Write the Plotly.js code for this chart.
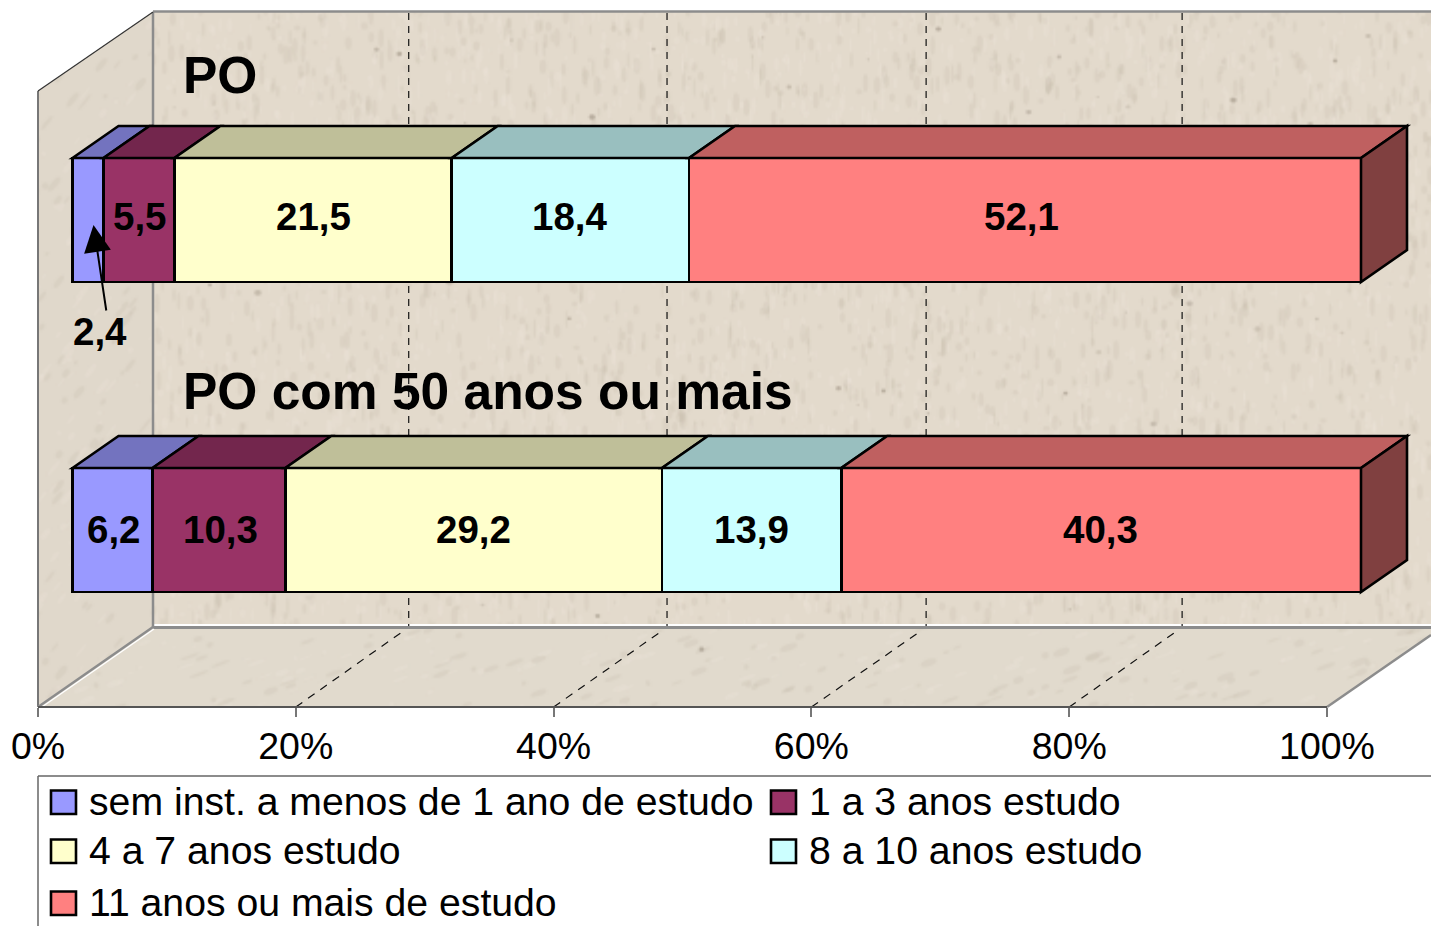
<!DOCTYPE html>
<html>
<head>
<meta charset="utf-8">
<script src="https://cdn.plot.ly/plotly-3.0.1.min.js"></script>
<style>html,body{margin:0;padding:0;background:#fff;overflow:hidden}#chart{width:1431px;height:926px}</style>
</head>
<body>
<div id="chart"></div>
<script>
// ---- data ----
const categories = ['PO', 'PO com 50 anos ou mais'];
const semInst   = [2.4, 6.2];
const anos1a3   = [5.5, 10.3];
const anos4a7   = [21.5, 29.2];
const anos8a10  = [18.4, 13.9];
const anos11    = [52.1, 40.3];
const seriesNames = ['sem inst. a menos de 1 ano de estudo', '1 a 3 anos estudo', '4 a 7 anos estudo', '8 a 10 anos estudo', '11 anos ou mais de estudo'];
const seriesColors = ['#9999FF', '#993366', '#FFFFCC', '#CCFFFF', '#FF8080'];
const tickValues = [0, 20, 40, 60, 80, 100];
const gridValues = [20, 40, 60, 80];

const allSeries = [semInst, anos1a3, anos4a7, anos8a10, anos11];
const FONT = '"Liberation Sans", Arial, sans-serif';
const W = 1431, H = 926;
const px = v => v / W, py = v => 1 - v / H;

// bar scale: 0% at 72.5px, 100% at 1361px; category centres at 220px and 530px
const xPerPct = 12.885, yPerCat = 310;
const xRange = [-72.5 / xPerPct, (W - 72.5) / xPerPct];
const yRange = [(H - 220) / yPerCat, -220 / yPerCat];
const halfBar = 0.2, depthX = 46 / xPerPct, depthY = 32 / yPerCat;

function shade(hex, f) {
  const n = parseInt(hex.slice(1), 16);
  const c = [n >> 16 & 255, n >> 8 & 255, n & 255].map(v => Math.round(v * f));
  return 'rgb(' + c.join(',') + ')';
}
const fmt = v => v.toFixed(1).replace('.', ',');

// ---- bars ----
const traces = allSeries.map((vals, s) => ({
  type: 'bar', orientation: 'h', name: seriesNames[s], y: categories, x: vals,
  marker: {color: seriesColors[s], line: {color: '#000', width: 2.6}},
  hoverinfo: 'name+x', showlegend: false, xaxis: 'x', yaxis: 'y'
}));
// percent axis along the front edge of the floor
traces.push({type: 'scatter', mode: 'none', x: tickValues, y: tickValues.map(() => 0), xaxis: 'x2', yaxis: 'y2', showlegend: false, hoverinfo: 'skip'});

// ---- 3D faces of the bars and value labels, from the same values ----
const shapes = [];
const annotations = [];
const LINE = {color: '#000', width: 2.6};
const labelLift = [4, 1];
const labelNudge = [[0, 1, 0, 0, -4], [2, 2, 0, 0, -1]];
categories.forEach((cat, i) => {
  const total = allSeries.reduce((a, s) => a + s[i], 0);
  let start = 0;
  const t = i - halfBar, b = i + halfBar;
  allSeries.forEach((s, k) => {
    const end = start + s[i] / total * 100;
    shapes.push({type: 'path', xref: 'x', yref: 'y', layer: 'above', line: LINE, fillcolor: shade(seriesColors[k], 0.75),
      path: `M${start},${t}L${start + depthX},${t - depthY}L${end + depthX},${t - depthY}L${end},${t}Z`});
    if (k === allSeries.length - 1) {
      shapes.push({type: 'path', xref: 'x', yref: 'y', layer: 'above', line: LINE, fillcolor: shade(seriesColors[k], 0.5),
        path: `M${end},${t}L${end + depthX},${t - depthY}L${end + depthX},${b - depthY}L${end},${b}Z`});
    }
    if (!(i === 0 && k === 0)) {
      annotations.push({xref: 'x', yref: 'y', x: (start + end) / 2, y: i, xshift: labelNudge[i][k], yshift: labelLift[i], showarrow: false, text: '<b>' + fmt(s[i]) + '</b>', font: {family: FONT, size: 38.5, color: '#000'}});
    }
    start = end;
  });
});

// ---- walls ----
function seg(x0, y0, x1, y1, color, width, dash) {
  return {type: 'line', xref: 'paper', yref: 'paper', layer: 'below', x0: px(x0), y0: py(y0), x1: px(x1), y1: py(y1), line: {color, width, dash: dash || 'solid'}};
}
shapes.push(
  seg(153, 625, W, 625, '#ffffff', 2),
  seg(153, 627.5, W, 627.5, '#8c8c8c', 3),
  seg(153, 11.5, W, 11.5, '#8c8c8c', 2.5),
  seg(153, 12, 153, 627, '#8c8c8c', 2.5),
  seg(38, 91, 38, 707, '#777777', 2),
  seg(38, 91, 153, 12, '#333333', 1.2),
  seg(39, 709, 154, 629, '#ffffff', 1.5),
  seg(38, 707, 153, 627, '#8c8c8c', 2.5),
  seg(1327, 707, W, 635, '#8c8c8c', 2.5)
);
// dashed gridlines on back wall and floor
const backOffsets = [8.76, 8.8, 8.9, 8.76];
gridValues.forEach((v, i) => {
  const o = backOffsets[i];
  shapes.push({type: 'line', xref: 'x2', yref: 'paper', layer: 'below', x0: v + o, x1: v + o, y0: py(13), y1: py(626), line: {color: '#111', width: 1.2, dash: '7px,6px'}});
  shapes.push({type: 'line', xref: 'x2', yref: 'paper', layer: 'below', x0: v, x1: v + o - 0.3, y0: py(707), y1: py(630), line: {color: '#111', width: 1.2, dash: '8px,7px'}});
});

// ---- legend box ----
shapes.push(seg(38, 776, W, 776, '#666666', 1.5), seg(38, 776, 38, H, '#666666', 1.5));
const legendCols = [51, 771], legendRows = [802.5, 851.5, 903.5];
seriesNames.forEach((name, i) => {
  const x = legendCols[i % 2], y = legendRows[Math.floor(i / 2)];
  shapes.push({type: 'rect', xref: 'paper', yref: 'paper', layer: 'above', x0: px(x), x1: px(x + 25), y0: py(y - 12), y1: py(y + 11.5), fillcolor: seriesColors[i], line: LINE});
  annotations.push({xref: 'paper', yref: 'paper', x: px(x + 36), y: py(y - 0.7), xanchor: 'left', yanchor: 'middle', showarrow: false, text: name, font: {family: FONT, size: 39.2, color: '#000'}});
});

// ---- group titles ----
[74.5, 390.5].forEach((y, i) => annotations.push({xref: 'paper', yref: 'paper', x: px(180.5), y: py(y), xanchor: 'left', yanchor: 'middle', showarrow: false, text: '<b>' + categories[i] + '</b>', font: {family: FONT, size: 51.5, color: '#000'}}));

// ---- 2,4 callout ----
annotations.push({xref: 'paper', yref: 'paper', x: px(99.5), y: py(331), xanchor: 'center', yanchor: 'middle', showarrow: false, text: '<b>' + fmt(semInst[0]) + '</b>', font: {family: FONT, size: 38.5, color: '#000'}});
annotations.push({xref: 'paper', yref: 'paper', x: px(93.5), y: py(225), text: '', showarrow: true, arrowhead: 2, arrowsize: 2.7, arrowwidth: 2, arrowcolor: '#000', axref: 'pixel', ayref: 'pixel', ax: 13, ay: 87});

// ---- paper texture of the walls, deterministic; drawn small and enlarged so it comes out soft ----
function wallTexture() {
  const c = document.createElement('canvas'); c.width = W; c.height = H;
  const g = c.getContext('2d');
  const SW = Math.round(W / 2), SH = Math.round(H / 2);
  let seed = 12345;
  const rnd = () => { seed = (seed * 1664525 + 1013904223) % 4294967296; return seed / 4294967296; };
  const regions = [
    {poly: [[153,12],[W,12],[W,627],[153,627]], base: '#E3DACC', angle: Math.PI / 2, n: 9000},
    {poly: [[38,91],[153,12],[153,627],[38,707]], base: '#E0D8CB', angle: -0.9, n: 3000},
    {poly: [[38,707],[153,627],[W,627],[W,635],[1327,707]], base: '#E1DACD', angle: -0.35, n: 3000}
  ];
  regions.forEach(r => {
    const s = document.createElement('canvas'); s.width = SW; s.height = SH;
    const q = s.getContext('2d');
    q.fillStyle = r.base; q.fillRect(0, 0, SW, SH);
    for (let i = 0; i < r.n; i++) {
      const x = rnd() * SW, y = rnd() * SH, big = rnd(), light = rnd() > 0.5;
      q.fillStyle = light ? 'rgba(240,234,224,0.22)' : 'rgba(190,176,158,0.18)';
      q.beginPath(); q.ellipse(x, y, 1 + big * 4, 0.5 + rnd() * 1.2, r.angle, 0, 7); q.fill();
    }
    for (let i = 0; i < r.n / 70; i++) {
      const x = rnd() * SW, y = rnd() * SH, d = 0.5 + rnd() * 1.2;
      q.fillStyle = 'rgba(140,128,112,' + (0.2 + rnd() * 0.35) + ')';
      q.beginPath(); q.ellipse(x, y, d, d * 0.8, 0, 0, 7); q.fill();
    }
    g.save(); g.beginPath();
    r.poly.forEach((p, i) => i ? g.lineTo(p[0], p[1]) : g.moveTo(p[0], p[1]));
    g.closePath(); g.clip();
    g.imageSmoothingEnabled = true;
    g.drawImage(s, 0, 0, W, H);
    g.restore();
  });
  return c.toDataURL('image/png');
}

const layout = {
  width: W, height: H, margin: {l: 0, r: 0, t: 0, b: 0}, autosize: false,
  paper_bgcolor: '#fff', plot_bgcolor: 'rgba(0,0,0,0)', showlegend: false,
  barmode: 'stack', barnorm: 'percent', bargap: 0.6,
  font: {family: FONT, color: '#000'},
  xaxis: {range: xRange, visible: false, fixedrange: true, domain: [0, 1], anchor: 'y'},
  yaxis: {type: 'category', categoryorder: 'array', categoryarray: categories, range: yRange, visible: false, fixedrange: true, domain: [0, 1], anchor: 'x'},
  xaxis2: {domain: [px(38), px(1327)], range: [0, 100], anchor: 'y2', side: 'bottom', tickmode: 'array', tickvals: tickValues, ticktext: tickValues.map(v => v + '%'),
    ticks: 'outside', ticklen: 9, tickwidth: 1.5, tickcolor: '#777', showline: true, linecolor: '#555', linewidth: 2, showgrid: false, zeroline: false, ticklabelstandoff: -3,
    tickfont: {family: FONT, size: 37.5, color: '#000'}, fixedrange: true, automargin: false},
  yaxis2: {domain: [py(706), py(700)], range: [0, 1], anchor: 'x2', visible: false, fixedrange: true},
  shapes, annotations,
  images: [{source: wallTexture(), xref: 'paper', yref: 'paper', x: 0, y: 1, sizex: 1, sizey: 1, sizing: 'stretch', xanchor: 'left', yanchor: 'top', layer: 'below'}]
};
Plotly.newPlot('chart', traces, layout, {displayModeBar: false, responsive: false});
</script>
</body>
</html>
